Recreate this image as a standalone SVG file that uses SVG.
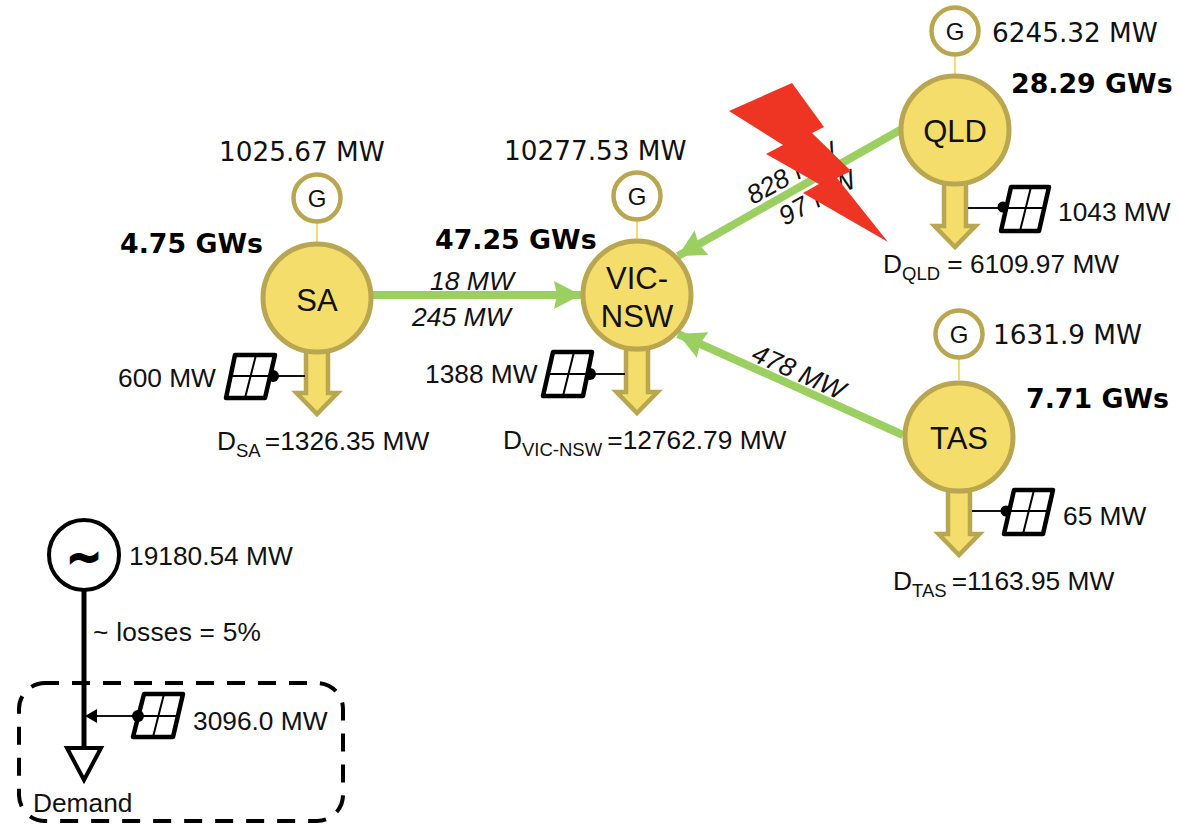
<svg xmlns="http://www.w3.org/2000/svg" width="1180" height="826" viewBox="0 0 1180 826">
<style>
text{font-family:"Liberation Sans",Arial,sans-serif;fill:#111}
.dv{font-family:"DejaVu Sans",sans-serif;font-size:26.3px}
.b{font-family:"DejaVu Sans",sans-serif;font-size:26.8px;font-weight:700;fill:#000}
.t{font-size:26.3px}
.n{font-size:31px;text-anchor:middle}
.g{font-size:24px;text-anchor:middle}
.s{font-size:18.5px}
.f{font-size:26.5px;font-style:italic}
.bus{fill:#f5dd6b;stroke:#b9a651;stroke-width:5}
.gen{fill:#fff;stroke:#b9a651;stroke-width:4.5}
.tie{stroke:#f5dd6b;stroke-width:2;fill:none}
.load{fill:#f5dd6b;stroke:#b9a651;stroke-width:4.5;stroke-linejoin:miter}
.flow{stroke:#9ccf62;stroke-width:8;fill:none}
.pv{fill:#fff;stroke:#000;stroke-width:4.5;stroke-linejoin:round}
.pvl{stroke:#000;stroke-width:2;fill:none}
.lead{stroke:#111;stroke-width:2;fill:none}
</style>
<defs>
<marker id="gh" markerUnits="userSpaceOnUse" markerWidth="30" markerHeight="30" refX="27" refY="14" orient="auto"><path d="M0 0L27 14L0 28L3 14Z" fill="#9ccf62"/></marker>
<path id="arrow" class="load" d="M-11 0V43H-20.5L0 64L20.5 43H11V0Z"/>
</defs>
<g id="connectors">
<path class="flow" d="M372 295H581" marker-end="url(#gh)"/>
<path class="flow" d="M902 129L678 256" marker-end="url(#gh)"/>
<path class="flow" d="M903 435L678 334" marker-end="url(#gh)"/>
<path class="tie" d="M317 222V242M637 218V240M955 54V76M959 358V380"/>
</g>
<g id="flow-labels">
<text class="f" x="430" y="290">18 MW</text>
<text class="f" x="412" y="326">245 MW</text>
<text class="f" transform="translate(753 205) rotate(-29)">828 MW</text>
<text class="f" transform="translate(785 226) rotate(-29)">97 MW</text>
<text class="f" transform="translate(750 360) rotate(24)">478 MW</text>
</g>
<g id="node-sa">
<use href="#arrow" x="317" y="350"/>
<circle class="bus" cx="317" cy="298" r="54"/>
<text class="n" x="317" y="311">SA</text>
<circle class="gen" cx="317" cy="198" r="23.5"/><text class="g" x="317" y="207">G</text>
<text class="dv" x="219" y="161">1025.67 MW</text>
<text class="b" x="120" y="253">4.75 GWs</text>
<path class="lead" d="M305 376H272"/><circle cx="273" cy="376" r="6" fill="#000"/>
<path class="pv" d="M235 355H275L265 398H226Z"/><path class="pvl" d="M256 355L245 398M230 376H272"/>
<text class="t" x="118" y="387">600 MW</text>
<text class="t" x="217" y="450">D<tspan class="s" dy="7">SA </tspan><tspan dy="-7">=1326.35 MW</tspan></text>
</g>
<g id="node-vic-nsw">
<use href="#arrow" x="637" y="349"/>
<circle class="bus" cx="637" cy="295" r="54"/>
<text class="n" x="637" y="289">VIC-</text><text class="n" x="637" y="327">NSW</text>
<circle class="gen" cx="637" cy="196" r="23.5"/><text class="g" x="637" y="205">G</text>
<text class="dv" x="504" y="160">10277.53 MW</text>
<text class="b" x="435" y="249">47.25 GWs</text>
<path class="lead" d="M625 374H590"/><circle cx="590" cy="374" r="6" fill="#000"/>
<path class="pv" d="M553 352H592L583 396H543Z"/><path class="pvl" d="M574 352L563 396M547 374H590"/>
<text class="t" x="425" y="383">1388 MW</text>
<text class="t" x="503" y="449">D<tspan class="s" dy="7">VIC-NSW </tspan><tspan dy="-7">=12762.79 MW</tspan></text>
</g>
<g id="node-qld">
<use href="#arrow" x="955" y="183"/>
<circle class="bus" cx="955" cy="130" r="54"/>
<text class="n" x="955" y="142">QLD</text>
<circle class="gen" cx="955" cy="31" r="23.5"/><text class="g" x="955" y="40">G</text>
<text class="dv" x="992" y="42">6245.32 MW</text>
<text class="b" x="1011" y="93">28.29 GWs</text>
<path class="lead" d="M968 208H1003"/><circle cx="1003" cy="207" r="5.5" fill="#000"/>
<path class="pv" d="M1011 187H1049L1039 231H1001Z"/><path class="pvl" d="M1031 187L1020 231M1006 208H1046"/>
<text class="t" x="1058" y="221">1043 MW</text>
<text class="t" x="883" y="273">D<tspan class="s" dy="7">QLD</tspan><tspan dy="-7"> = 6109.97 MW</tspan></text>
</g>
<g id="node-tas">
<use href="#arrow" x="959" y="491"/>
<circle class="bus" cx="959" cy="437" r="54"/>
<text class="n" x="959" y="449">TAS</text>
<circle class="gen" cx="959" cy="334" r="23.5"/><text class="g" x="959" y="343">G</text>
<text class="dv" x="993" y="344">1631.9 MW</text>
<text class="b" x="1026" y="408">7.71 GWs</text>
<path class="lead" d="M972 511H1006"/><circle cx="1006" cy="511" r="5.5" fill="#000"/>
<path class="pv" d="M1014 490H1053L1043 534H1004Z"/><path class="pvl" d="M1034 490L1023 534M1009 511H1050"/>
<text class="t" x="1063" y="525">65 MW</text>
<text class="t" x="893" y="590">D<tspan class="s" dy="7">TAS </tspan><tspan dy="-7">=1163.95 MW</tspan></text>
</g>
<g id="bolt"><path fill="#ee3524" d="M729 111L792 83L824 127L812 133L851 171L837 178L888 242L803 193L819 184L766 154L783 145Z"/></g>
<g id="summary">
<rect x="19" y="683" width="324" height="138" rx="26" fill="none" stroke="#000" stroke-width="4" stroke-dasharray="18 13" stroke-dashoffset="4"/>
<path d="M84 590V748" stroke="#000" stroke-width="5" fill="none"/>
<circle cx="84" cy="555" r="35" fill="#fff" stroke="#000" stroke-width="4"/>
<text x="84" y="572" font-size="42" font-weight="700" text-anchor="middle" stroke="#000" stroke-width="2.2" style="font-family:'DejaVu Sans',sans-serif;fill:#000">~</text>
<text class="t" x="129" y="565">19180.54 MW</text>
<text class="t" x="93" y="641" textLength="168">~ losses = 5%</text>
<path class="lead" d="M96 716H138"/><path d="M85 716L97 709V723Z" fill="#000"/>
<path class="pv" d="M144 694H183L173 737H133Z"/><path class="pvl" d="M164 694L153 737M138 716H179"/>
<circle cx="138" cy="716" r="6" fill="#000"/>
<text class="t" x="193" y="730">3096.0 MW</text>
<path d="M67 748H101L84 780Z" fill="#fff" stroke="#000" stroke-width="4"/>
<text class="t" x="33" y="812">Demand</text>
</g>
</svg>
